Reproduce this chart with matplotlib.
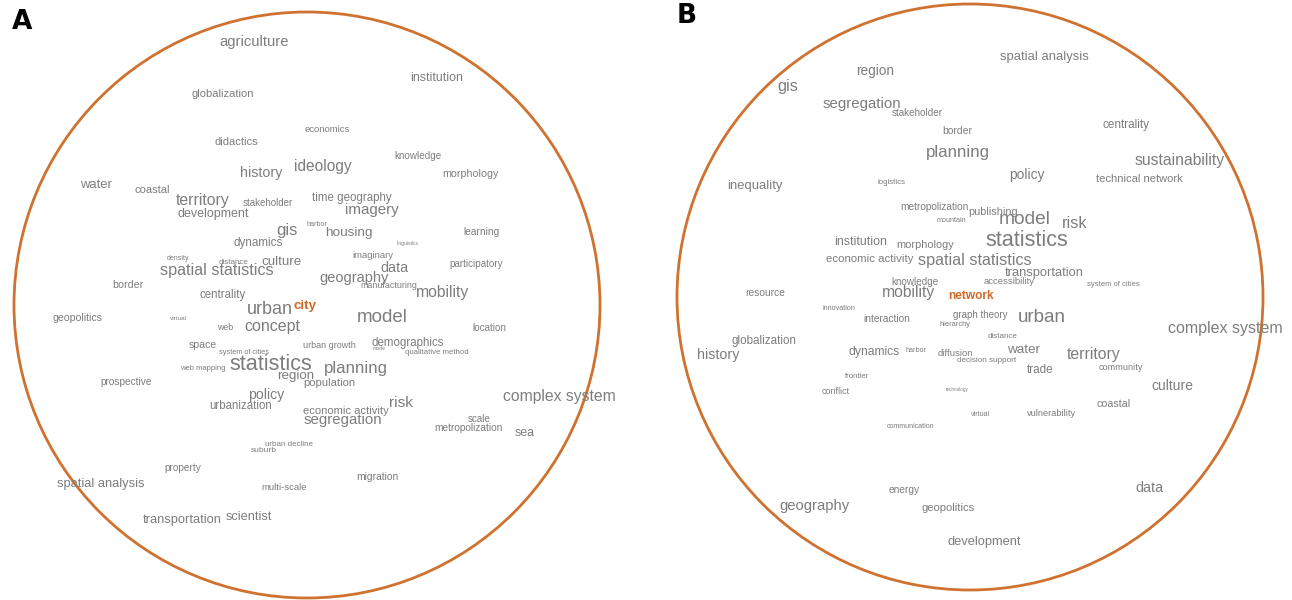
import matplotlib
matplotlib.use("Agg")
import matplotlib.pyplot as plt
from matplotlib.patches import Circle

# ---------------- data: panel A ----------------
words_a = ["agriculture", "institution", "globalization", "economics", "didactics",
           "knowledge", "history", "ideology", "morphology", "water", "coastal",
           "time geography", "territory", "imagery", "development", "stakeholder",
           "harbor", "housing", "gis", "linguistics", "learning", "dynamics",
           "density", "distance", "culture", "imaginary", "data", "participatory",
           "spatial statistics", "geography", "manufacturing", "border", "mobility",
           "centrality", "geopolitics", "virtual", "urban", "city", "model",
           "concept", "web", "location", "space", "urban growth", "demographics",
           "mode", "system of cities", "qualitative method", "statistics",
           "web mapping", "planning", "region", "population", "prospective",
           "complex system", "policy", "risk", "urbanization", "economic activity",
           "segregation", "scale", "metropolization", "sea", "urban decline",
           "suburb", "property", "migration", "spatial analysis", "multi-scale",
           "transportation", "scientist"]
x_a = [254, 437, 223, 327, 236, 418, 261, 323, 470, 96, 152,
       352, 203, 372, 213, 268, 317, 349, 287, 408, 481, 258,
       178, 234, 282, 373, 394, 476, 217, 354, 389, 128, 443,
       223, 77, 178, 270, 305, 382, 272, 225, 489, 203, 329, 408,
       379, 244, 437, 271, 203, 356, 296, 329, 126,
       559, 266, 401, 241, 346, 343, 479, 468, 525, 289,
       264, 183, 377, 101, 284, 182, 249]
y_a = [42, 78, 94, 129, 142, 156, 173, 166, 174, 185, 190,
       198, 200, 210, 214, 203, 224, 233, 231, 243, 232, 243,
       259, 262, 262, 255, 268, 264, 271, 278, 286, 285, 292,
       295, 318, 318, 309, 306, 318, 326, 327, 328, 345, 345, 343,
       349, 353, 353, 364, 368, 369, 376, 383, 382,
       396, 395, 403, 406, 411, 420, 419, 428, 433, 445,
       451, 468, 477, 484, 487, 520, 517]
size_a = [10.6, 8.9, 8.0, 6.8, 8.0, 7.1, 10.3, 11.2, 7.7, 9.4, 8.0,
          8.3, 11.3, 10.9, 9.0, 7.0, 5.2, 9.7, 12.0, 3.6, 7.3, 8.4,
          5.0, 5.8, 9.6, 6.8, 10.4, 7.1, 11.6, 10.5, 6.4, 7.7, 11.3,
          8.3, 7.6, 4.6, 13.0, 9.6, 13.5, 11.5, 6.3, 7.1, 7.6, 6.5, 8.3,
          3.7, 5.3, 5.6, 15.6, 5.5, 12.2, 9.6, 8.1, 7.3,
          11.3, 10.1, 11.1, 8.3, 8.1, 10.8, 7.1, 7.3, 8.9, 5.8,
          6.1, 7.3, 7.4, 9.3, 6.8, 9.3, 9.2]
focus_a = "city"

# ---------------- data: panel B ----------------
words_b = ["spatial analysis", "region", "gis", "segregation", "stakeholder",
           "centrality", "border", "planning", "sustainability", "policy",
           "inequality", "logistics", "technical network", "metropolization",
           "publishing", "mountain", "model", "risk", "statistics", "institution",
           "morphology", "economic activity", "spatial statistics", "transportation",
           "knowledge", "accessibility", "system of cities", "resource", "mobility",
           "network", "innovation", "interaction", "graph theory", "urban",
           "hierarchy", "distance", "complex system", "globalization", "history",
           "dynamics", "harbor", "diffusion", "water", "decision support",
           "territory", "community", "trade", "frontier", "culture", "conflict",
           "technology", "coastal", "vulnerability", "virtual", "communication",
           "data", "energy", "geography", "geopolitics", "development"]
x_b = [1044, 875, 788, 862, 917, 1126, 957, 958, 1180, 1027,
       755, 891, 1139, 934, 993, 951, 1025, 1075, 1027, 861,
       925, 870, 975, 1044, 915, 1009, 1113, 765, 909, 971,
       839, 887, 980, 1042, 955, 1003, 1225, 764, 718, 874,
       916, 955, 1024, 987, 1094, 1121, 1040, 857, 1172, 836,
       957, 1114, 1052, 981, 911, 1149, 904, 814, 948, 984]
y_b = [57, 71, 87, 104, 113, 125, 131, 153, 160, 175,
       186, 183, 179, 207, 212, 221, 219, 224, 241, 242,
       245, 259, 260, 273, 282, 282, 284, 293, 293, 296,
       308, 319, 315, 317, 325, 336, 328, 341, 355, 352,
       351, 353, 350, 361, 354, 367, 370, 377, 386, 391,
       389, 404, 413, 414, 426, 488, 490, 506, 508, 542]
size_b = [9.4, 9.8, 11.8, 10.8, 7.1, 8.5, 7.5, 12.2, 11.3, 9.9,
          9.4, 5.7, 8.0, 7.3, 7.8, 5.2, 13.8, 11.6, 15.6, 8.9,
          7.9, 8.2, 11.6, 9.3, 7.1, 6.8, 5.5, 7.4, 11.3, 8.6,
          5.2, 7.3, 7.0, 13.5, 5.4, 5.8, 11.5, 8.4, 10.3, 8.7,
          5.2, 6.8, 9.7, 5.9, 11.3, 6.6, 8.5, 5.6, 10.0, 6.5,
          3.3, 7.7, 6.7, 5.1, 5.1, 10.4, 7.3, 10.7, 8.1, 9.3]
focus_b = "network"

panel_labels = ["A", "B"]

# ---------------- styling ----------------
GRAY = "#7d7d7d"
ORANGE = "#cf6b26"
RING = "#d0722f"
FONT = ["Liberation Sans", "DejaVu Sans"]

fig = plt.figure(figsize=(12.92, 6.0), dpi=100)
ax = fig.add_axes([0, 0, 1, 1])
ax.set_xlim(0, 1292)
ax.set_ylim(600, 0)
ax.axis("off")

circles = [((307, 305), 293), ((970, 297), 293)]
for (c, r) in circles:
    ax.add_patch(Circle(c, r, fill=False, edgecolor=RING, linewidth=2.0))

def draw_words(words, xs, ys, sizes, focus):
    for w, x, y, s in zip(words, xs, ys, sizes):
        hl = (w == focus)
        ax.text(x, y, w, ha="center", va="center", fontsize=s,
                family=FONT, color=ORANGE if hl else GRAY,
                fontweight="bold" if hl else "normal")

draw_words(words_a, x_a, y_a, size_a, focus_a)
draw_words(words_b, x_b, y_b, size_b, focus_b)

label_pos = [(22, 22), (687, 16)]
for lab, (lx, ly) in zip(panel_labels, label_pos):
    ax.text(lx, ly, lab, ha="center", va="center", fontsize=19,
            family=["DejaVu Sans"], fontweight="heavy", color="black")

fig.savefig("out.png", dpi=100)
